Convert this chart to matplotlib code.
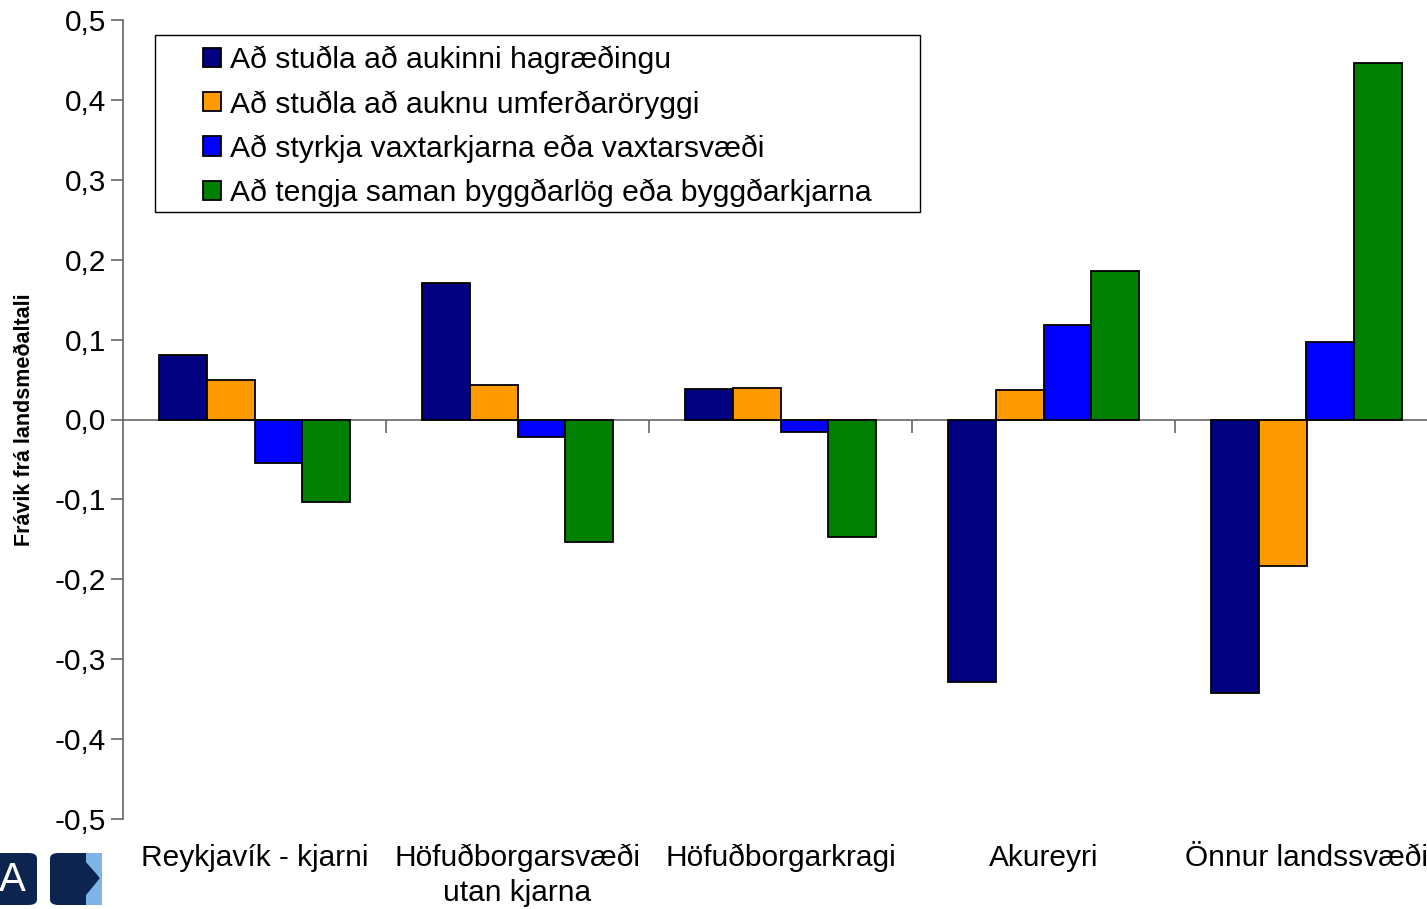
import matplotlib
matplotlib.use("Agg")
import matplotlib.pyplot as plt
from matplotlib.patches import FancyBboxPatch, Polygon, Rectangle
from matplotlib.ticker import FixedLocator, FuncFormatter

plt.rcParams["font.family"] = ["Liberation Sans", "DejaVu Sans"]

# gogn
categories = ["Reykjavík - kjarni", "Höfuðborgarsvæði\nutan kjarna", "Höfuðborgarkragi",
              "Akureyri", "Önnur landssvæði"]
series = ["Að stuðla að aukinni hagræðingu",
          "Að stuðla að auknu umferðaröryggi",
          "Að styrkja vaxtarkjarna eða vaxtarsvæði",
          "Að tengja saman byggðarlög eða byggðarkjarna"]
hagraeding = [0.081, 0.171, 0.038, -0.329, -0.342]
umferd = [0.050, 0.043, 0.039, 0.037, -0.183]
vaxtarkjarnar = [-0.054, -0.022, -0.016, 0.118, 0.097]
tengja = [-0.103, -0.153, -0.147, 0.186, 0.446]
colors = ["#000080", "#FF9900", "#0000FF", "#008000"]
yticks = [-0.5, -0.4, -0.3, -0.2, -0.1, 0.0, 0.1, 0.2, 0.3, 0.4, 0.5]

W, H = 1427, 909
fig = plt.figure(figsize=(W / 100, H / 100), dpi=100)
ax = fig.add_axes([123 / W, (H - 819) / H, (1438 - 123) / W, (819 - 20) / H])


def px(x0, y0):
    return (x0 / W, 1 - y0 / H)


w = 0.1825
x = list(range(len(categories)))
data = [hagraeding, umferd, vaxtarkjarnar, tengja]
for i, (vals, col, lab) in enumerate(zip(data, colors, series)):
    xs = [j + (i - 1.5) * w for j in x]
    ax.bar(xs, vals, w, color=col, edgecolor="black", linewidth=1.3, label=lab, zorder=3)

ax.set_xlim(-0.5, len(categories) - 0.5)
ax.set_ylim(-0.5, 0.5)

for s in ["top", "right"]:
    ax.spines[s].set_visible(False)
ax.spines["left"].set_color("#666666")
ax.spines["left"].set_linewidth(1.2)
ax.spines["bottom"].set_position(("data", 0))
ax.spines["bottom"].set_color("#666666")
ax.spines["bottom"].set_linewidth(1.2)
ax.spines["bottom"].set_zorder(2)

ax.yaxis.set_major_locator(FixedLocator(yticks))
ax.yaxis.set_major_formatter(FuncFormatter(lambda v, p: ("%.1f" % v).replace(".", ",")))
ax.tick_params(axis="y", length=9, width=1.2, color="#666666", labelsize=21.5, pad=3)

ax.set_xticks([j + 0.5 for j in x[:-1]])
ax.set_xticklabels([])
ax.tick_params(axis="x", length=9, width=1.2, color="#666666")

sec = ax.secondary_xaxis(0)
sec.set_xticks(x)
sec.set_xticklabels(categories, fontsize=21.5, linespacing=1.32)
sec.tick_params(length=0, pad=18)
sec.spines["bottom"].set_visible(False)

fig.text(25 / W, 1 - 420 / H, "Frávik frá landsmeðaltali", rotation=90, ha="center",
         va="center", fontsize=15.5, fontweight="bold")

# rammi um skyringar
ax.add_patch(Rectangle(px(155, 212), (920 - 155) / W, (212 - 35) / H,
                       transform=fig.transFigure, facecolor="white", clip_on=False,
                       edgecolor="black", linewidth=1.0, zorder=4))
leg = ax.legend(loc="upper left", bbox_to_anchor=px(203, 46),
                bbox_transform=fig.transFigure, fontsize=21.7, frameon=False,
                handlelength=0.6, handleheight=0.6,
                handletextpad=0.28, labelspacing=0.52, borderpad=0,
                borderaxespad=0)
leg.set_zorder(5)

# merki nedst til vinstri
fig.patches.append(FancyBboxPatch(px(-20, 905), 57 / W, 52 / H, boxstyle="round,pad=0,rounding_size=0.006",
                                  transform=fig.transFigure, facecolor="#0c2550", edgecolor="none"))
fig.text(12 / W, 1 - 880 / H, "A", color="white", fontsize=29, ha="center", va="center")
fig.patches.append(FancyBboxPatch(px(62, 905), 40 / W, 52 / H, boxstyle="round,pad=0,rounding_size=0.006",
                                  transform=fig.transFigure, facecolor="#7fb5e6", edgecolor="none"))
fig.patches.append(FancyBboxPatch(px(50, 905), 36 / W, 52 / H, boxstyle="round,pad=0,rounding_size=0.006",
                                  transform=fig.transFigure, facecolor="#0c2550", edgecolor="none"))
fig.patches.append(Polygon([px(78, 853), px(100, 878), px(78, 905), px(86, 905), px(86, 853)],
                           closed=True, transform=fig.transFigure, facecolor="#0c2550",
                           edgecolor="none"))
fig.patches.append(Polygon([px(86, 853), px(102, 853), px(102, 905), px(86, 905), px(100, 879)],
                           closed=True, transform=fig.transFigure, facecolor="#7fb5e6",
                           edgecolor="none"))

fig.savefig("out.png", dpi=100)
